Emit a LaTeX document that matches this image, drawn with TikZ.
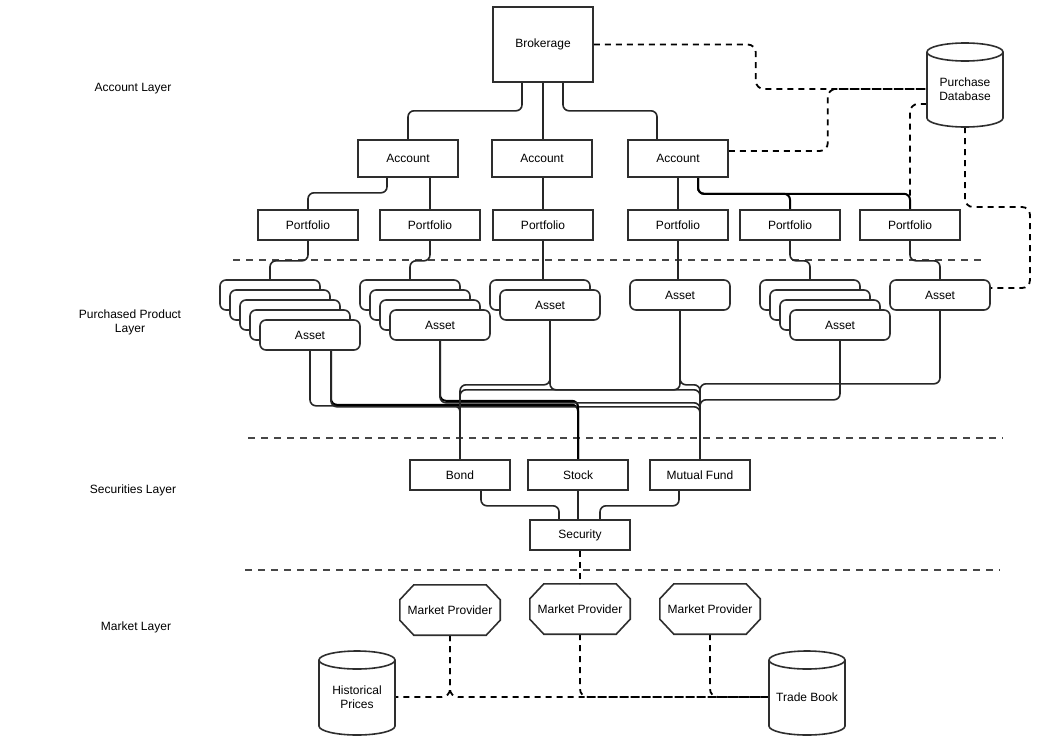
\documentclass[tikz,border=0pt]{standalone}
\usepackage{fontspec}
\setmainfont{Liberation Sans}
\usetikzlibrary{calc}
\pgfdeclarelayer{bg}
\pgfsetlayers{bg,main}
\newcommand\drawcyl[4]{%
  \pgfmathsetmacro\cylrx{(#3-#1)/2}%
  \filldraw[cylst] (#1,#2+9) -- (#1,#4-9) arc[start angle=180,end angle=0,x radius=\cylrx,y radius=9] -- (#3,#2+9) arc[start angle=0,end angle=-180,x radius=\cylrx,y radius=9] -- cycle;
  \draw[cylst] (#1,#2+9) arc[start angle=180,end angle=0,x radius=\cylrx,y radius=9];
}
\begin{document}
\begin{tikzpicture}[x=1pt,y=-1pt,font=\fontsize{12}{14}\selectfont,
  box/.style={draw=black!82,line width=1.6pt,fill=white,minimum width=100pt,minimum height=30pt,inner sep=0pt},
  assetbox/.style={box,rounded corners=6pt},
  conn/.style={draw=black!85,line width=1.6pt,rounded corners=6pt},
  bconn/.style={draw=black,line width=2pt,rounded corners=6pt},
  dconn/.style={draw=black,line width=1.8pt,dash pattern=on 6pt off 5pt,rounded corners=8pt},
  layerline/.style={draw=black!72,line width=2.3pt,dash pattern=on 7pt off 6pt},
  cylst/.style={draw=black!82,line width=1.6pt,fill=white},
  octst/.style={draw=black!82,line width=1.6pt},
  plain/.style={inner sep=0pt,align=center},
  mpnode/.style={minimum width=100pt,minimum height=50pt,inner sep=0pt}]
\useasboundingbox (0,0) rectangle (1054,755);

% layer labels
\node[plain] (lab1) at (133,89) {Account Layer};
\node[plain] (lab2) at (130,322) {Purchased Product\\Layer};
\node[plain] (lab3) at (133,490) {Securities Layer};
\node[plain] (lab4) at (136,627) {Market Layer};

% account layer
\node[box,minimum height=75pt] (brok) at (543,44.5) {Brokerage};
\node[box,minimum height=37pt] (acc1) at (408,158.5) {Account};
\node[box,minimum height=37pt] (acc2) at (542,158.5) {Account};
\node[box,minimum height=37pt] (acc3) at (678,158.5) {Account};
\node[box] (p1) at (308,225) {Portfolio};
\node[box] (p2) at (430,225) {Portfolio};
\node[box] (p3) at (543,225) {Portfolio};
\node[box] (p4) at (678,225) {Portfolio};
\node[box] (p5) at (790,225) {Portfolio};
\node[box] (p6) at (910,225) {Portfolio};

% purchase database
\drawcyl{927}{43}{1003}{127}
\node[plain,minimum width=76pt] (db) at (965,89) {Purchase\\Database};
\coordinate (dbbot) at (965,127);

% assets
\foreach \k in {0,...,3} \node[assetbox] (s1b\k) at (270+10*\k,295+10*\k) {};
\node[assetbox] (s1) at (310,335) {Asset};
\foreach \k in {0,...,2} \node[assetbox] (s2b\k) at (410+10*\k,295+10*\k) {};
\node[assetbox] (s2) at (440,325) {Asset};
\node[assetbox] (s3b0) at (540,295) {};
\node[assetbox] (a3) at (550,305) {Asset};
\node[assetbox] (a4) at (680,295) {Asset};
\foreach \k in {0,...,2} \node[assetbox] (s5b\k) at (810+10*\k,295+10*\k) {};
\node[assetbox] (s5) at (840,325) {Asset};
\node[assetbox] (a6) at (940,295) {Asset};

% securities
\node[box] (bond) at (460,475) {Bond};
\node[box] (stock) at (578,475) {Stock};
\node[box] (mf) at (700,475) {Mutual Fund};
\node[box] (sec) at (580,535) {Security};

% market
\node[mpnode] (mp1) at (450,610) {Market Provider};
\node[mpnode] (mp2) at (580,609) {Market Provider};
\node[mpnode] (mp3) at (710,609) {Market Provider};
\foreach \m in {mp1,mp2,mp3}
  \draw[octst] ([xshift=14pt]\m.north west) -- ([xshift=-14pt]\m.north east) -- ([yshift=-15pt]\m.north east) -- ([yshift=15pt]\m.south east) -- ([xshift=-14pt]\m.south east) -- ([xshift=14pt]\m.south west) -- ([yshift=15pt]\m.south west) -- ([yshift=-15pt]\m.north west) -- cycle;
\drawcyl{319}{651}{395}{735}
\node[plain,minimum width=76pt] (hp) at (357,697) {Historical\\Prices};
\drawcyl{769}{651}{845}{735}
\node[plain,minimum width=76pt] (tb) at (807,697) {Trade Book};

% layer lines
\coordinate (L1a) at (233,260); \coordinate (L1b) at (987,260);
\coordinate (L2a) at (248,438); \coordinate (L2b) at (1003,438);
\coordinate (L3a) at (245,570); \coordinate (L3b) at (1000,570);

\begin{pgfonlayer}{bg}
\draw[layerline] (L1a) -- (L1b);
\draw[layerline] (L2a) -- (L2b);
\draw[layerline] (L3a) -- (L3b);

% brokerage -> accounts
\draw[conn] ([xshift=-21pt]brok.south) -- ++(0,28) -| (acc1.north);
\draw[conn] (brok.south) -- (brok.south |- acc2.north);
\draw[conn] ([xshift=20pt]brok.south) -- ++(0,28) -| ([xshift=-21pt]acc3.north);
% accounts -> portfolios
\draw[conn] ([xshift=-21pt]acc1.south) -- ++(0,15) -| (p1.north);
\draw[conn] (p2.north |- acc1.south) -- (p2.north);
\draw[conn] (p3.north |- acc2.south) -- (p3.north);
\draw[conn] (acc3.south) -- (p4.north);
\draw[bconn] ([xshift=20pt]acc3.south) -- ++(0,16) -| (p5.north);
\draw[bconn] ([xshift=20pt]acc3.south) -- ++(0,16) -| (p6.north);
% portfolios -> assets
\draw[conn] (p1.south) -- ++(0,20) -| (s1b0.north);
\draw[conn] (p2.south) -- ++(0,20) -| (s2b0.north);
\draw[conn] (p3.south) -- (p3.south |- s3b0.north);
\draw[conn] (p4.south) -- (p4.south |- a4.north);
\draw[conn] (p5.south) -- ++(0,20) -| (s5b0.north);
\draw[conn] (p6.south) -- ++(0,20) -| (a6.north);
% assets -> securities
\draw[conn] (s1.south) -- ++(0,55) -| (bond.north);
\draw[bconn] ([xshift=21pt]s1.south) -- ++(0,54) -| (stock.north);
\draw[conn] ([xshift=21pt]s1.south) -- ++(0,56) -| (mf.north);
\draw[bconn] (s2.south) -- ++(0,60) -| (stock.north);
\draw[conn] (s2.south) -- ++(0,62) -| (mf.north);
\draw[conn] (a3.south) -- ++(0,64) -| (bond.north);
\draw[conn] (a3.south) -- ++(0,69) -| (mf.north);
\draw[conn] (a4.south) -- ++(0,79) -| (bond.north);
\draw[conn] (a4.south) -- ++(0,74) -| (mf.north);
\draw[conn] (s5.south) -- ++(0,59) -| (mf.north);
\draw[conn] (a6.south) -- ++(0,73) -| (mf.north);
% securities -> security
\draw[conn] ([xshift=21pt]bond.south) -- ++(0,15) -| ([xshift=-21pt]sec.north);
\draw[conn] (stock.south) -- (stock.south |- sec.north);
\draw[conn] ([xshift=-21pt]mf.south) -- ++(0,15) -| ([xshift=20pt]sec.north);

% dashed connectors
\draw[dconn] (brok.east) -- ++(162,0) |- (db.west);
\draw[dconn] ([yshift=7.5pt]acc3.east) -- ++(99,0) |- (db.west);
\draw[dconn] ([yshift=-15pt]db.west) -| (p6.north);
\draw[dconn] (dbbot) -- (965,207) -- (1030,207) -- (1030,288) -- ([yshift=7pt]a6.east);
\draw[dconn] (sec.south) -- (mp2.north);
\draw[dconn] (mp1.south) |- (hp.east);
\draw[dconn] (mp1.south) |- (tb.west);
\draw[dconn] (mp2.south) |- (tb.west);
\draw[dconn] (mp3.south) |- (tb.west);
\end{pgfonlayer}
\end{tikzpicture}
\end{document}
